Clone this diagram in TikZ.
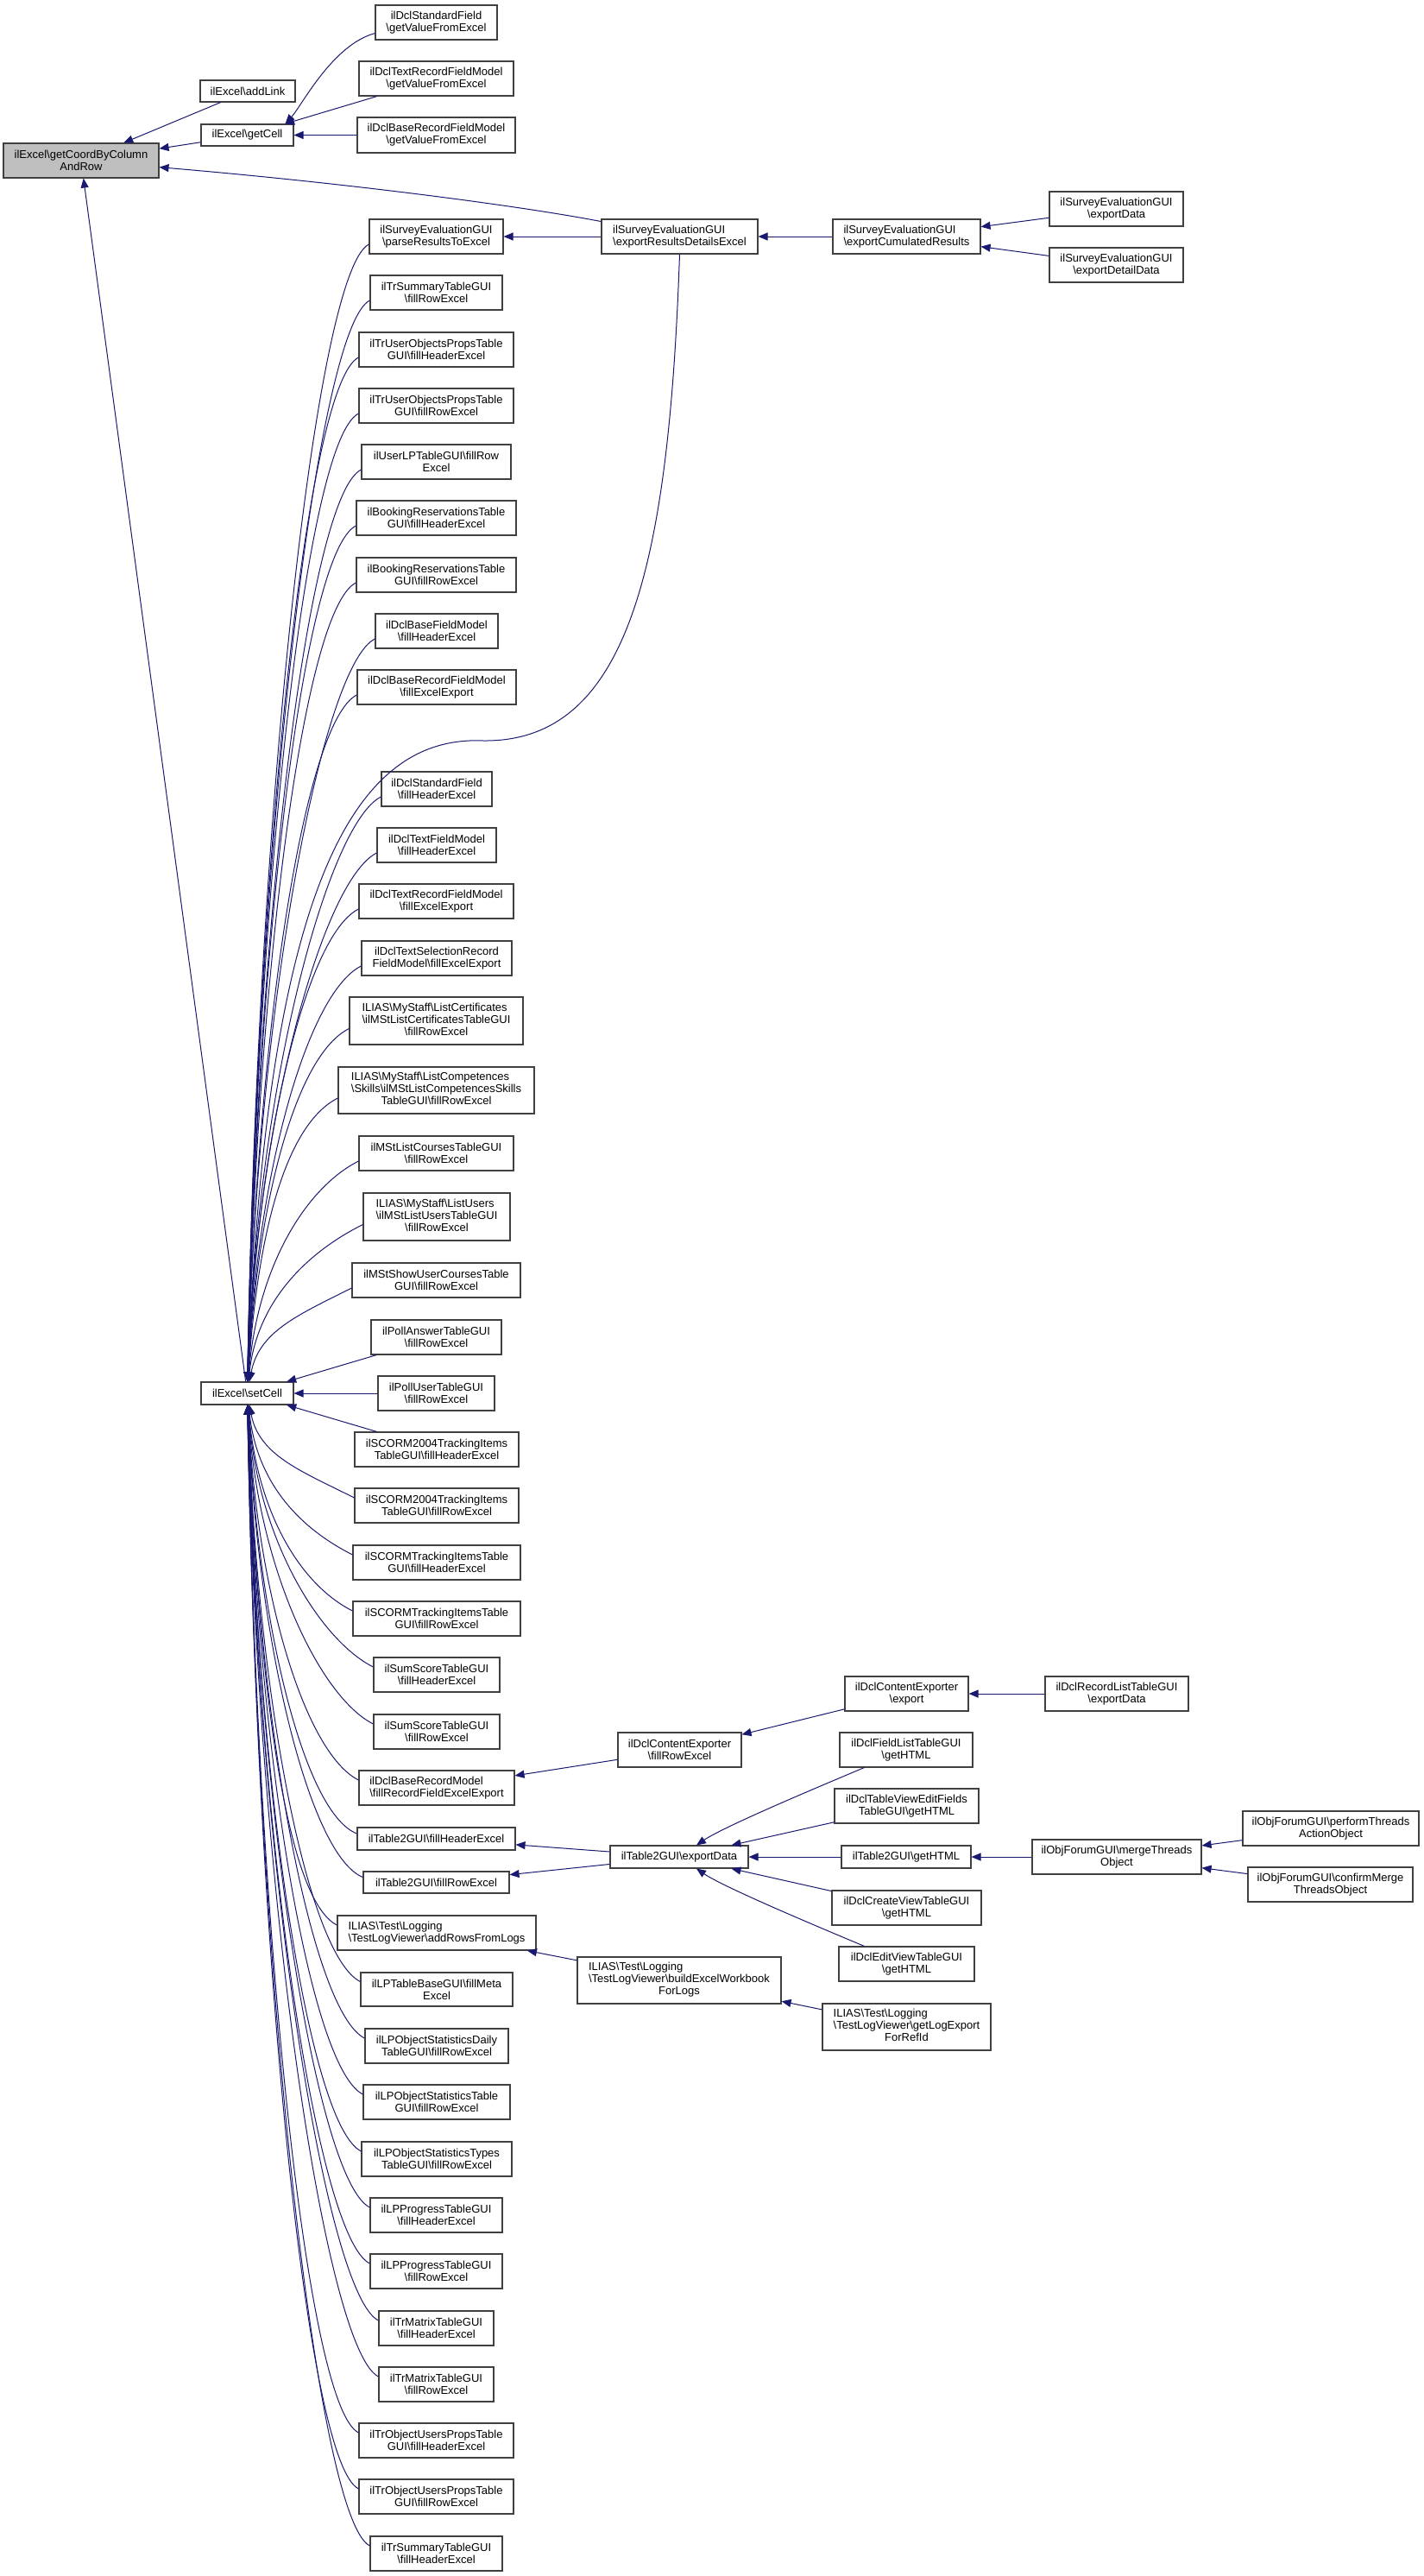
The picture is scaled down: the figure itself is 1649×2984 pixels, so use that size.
\documentclass[tikz,border=0pt]{standalone}
\usepackage{fontspec}
\setmainfont{Liberation Sans}
\usetikzlibrary{arrows.meta,calc}
\definecolor{edgec}{HTML}{191970}
\definecolor{boxc}{HTML}{404040}
\definecolor{gcfill}{HTML}{BFBFBF}
\newcommand\bsl{\textbackslash}
\newcommand\bx[6][]{\node[box,minimum width={(#5-#3)*1pt},minimum height={(#6-#4)*1pt},#1] (#2) at ({(#3+#5)/2},{(#4+#6)/2})}
\newcommand\upc[5]{\draw[call] ([yshift=-9pt]#1.west) .. controls (#2,#3) and (#4,#5) .. (setCell);}
\newcommand\loc[5]{\draw[call] ([yshift=9pt]#1.west) .. controls (#2,#3) and (#4,#5) .. (setCell);}
\newcommand\llc[3]{\begin{tabular}{@{}l@{}}#1\\#2\\\multicolumn{1}{@{}c@{}}{#3}\end{tabular}}
\tikzset{
  box/.style={draw=boxc, line width=1.1pt, fill=white, inner sep=0pt, align=center, font=\fontsize{13}{14}\selectfont},
  call/.style={draw=edgec, line width=1pt, -{Triangle[length=11pt,width=9pt]}},
}
\begin{document}
\begin{tikzpicture}[x=1pt,y=-1pt]
\useasboundingbox (0,0) rectangle (1649,2984);
% top part
\bx[fill=gcfill]{gc}{4}{166}{184}{206}{ilExcel\bsl getCoordByColumn\\AndRow};
\bx{addLink}{232}{93}{342}{118}{ilExcel\bsl addLink};
\bx{getCell}{233}{144}{340}{169}{ilExcel\bsl getCell};
\bx{sfGet}{435}{6}{576}{46}{ilDclStandardField\\\bsl getValueFromExcel};
\bx{trfGet}{416}{71}{595}{111}{ilDclTextRecordFieldModel\\\bsl getValueFromExcel};
\bx{brfGet}{414}{136}{597}{177}{ilDclBaseRecordFieldModel\\\bsl getValueFromExcel};
\bx[align=left]{erde}{697}{254}{878}{294}{ilSurveyEvaluationGUI\\\bsl exportResultsDetailsExcel};
\bx[align=left]{ecr}{965}{254}{1136}{294}{ilSurveyEvaluationGUI\\\bsl exportCumulatedResults};
\bx{sexd}{1216}{222}{1371}{262}{ilSurveyEvaluationGUI\\\bsl exportData};
\bx{sexdd}{1216}{287}{1371}{327}{ilSurveyEvaluationGUI\\\bsl exportDetailData};
\bx{setCell}{233}{1601}{340}{1627}{ilExcel\bsl setCell};
% left column
\bx{parse}{428}{254}{583}{294}{ilSurveyEvaluationGUI\\\bsl parseResultsToExcel};
\bx{trsumR}{429}{319}{582}{359}{ilTrSummaryTableGUI\\\bsl fillRowExcel};
\bx{truopH}{416}{385}{595}{425}{ilTrUserObjectsPropsTable\\GUI\bsl fillHeaderExcel};
\bx{truopR}{416}{450}{595}{490}{ilTrUserObjectsPropsTable\\GUI\bsl fillRowExcel};
\bx{ulp}{419}{515}{592}{555}{ilUserLPTableGUI\bsl fillRow\\Excel};
\bx{brH}{413}{580}{598}{620}{ilBookingReservationsTable\\GUI\bsl fillHeaderExcel};
\bx{brR}{413}{646}{598}{686}{ilBookingReservationsTable\\GUI\bsl fillRowExcel};
\bx{bfmH}{435}{711}{577}{751}{ilDclBaseFieldModel\\\bsl fillHeaderExcel};
\bx{brfmE}{414}{776}{598}{816}{ilDclBaseRecordFieldModel\\\bsl fillExcelExport};
\bx{sfH}{442}{894}{570}{934}{ilDclStandardField\\\bsl fillHeaderExcel};
\bx{tfmH}{437}{959}{575}{999}{ilDclTextFieldModel\\\bsl fillHeaderExcel};
\bx{trfmE}{416}{1024}{595}{1064}{ilDclTextRecordFieldModel\\\bsl fillExcelExport};
\bx{tsrfm}{419}{1090}{593}{1130}{ilDclTextSelectionRecord\\FieldModel\bsl fillExcelExport};
\bx{cert}{405}{1155}{606}{1210}{\llc{ILIAS\bsl MyStaff\bsl ListCertificates}{\bsl ilMStListCertificatesTableGUI}{\bsl fillRowExcel}};
\bx{comp}{392}{1236}{619}{1290}{\llc{ILIAS\bsl MyStaff\bsl ListCompetences}{\bsl Skills\bsl ilMStListCompetencesSkills}{TableGUI\bsl fillRowExcel}};
\bx{courses}{416}{1316}{595}{1356}{ilMStListCoursesTableGUI\\\bsl fillRowExcel};
\bx{users}{421}{1382}{591}{1437}{\llc{ILIAS\bsl MyStaff\bsl ListUsers}{\bsl ilMStListUsersTableGUI}{\bsl fillRowExcel}};
\bx{showuc}{408}{1463}{603}{1503}{ilMStShowUserCoursesTable\\GUI\bsl fillRowExcel};
\bx{pollA}{430}{1529}{581}{1569}{ilPollAnswerTableGUI\\\bsl fillRowExcel};
\bx{pollU}{438}{1594}{573}{1634}{ilPollUserTableGUI\\\bsl fillRowExcel};
\bx{s04H}{411}{1659}{601}{1699}{ilSCORM2004TrackingItems\\TableGUI\bsl fillHeaderExcel};
\bx{s04R}{411}{1724}{601}{1764}{ilSCORM2004TrackingItems\\TableGUI\bsl fillRowExcel};
\bx{stiH}{409}{1790}{603}{1830}{ilSCORMTrackingItemsTable\\GUI\bsl fillHeaderExcel};
\bx{stiR}{409}{1855}{603}{1895}{ilSCORMTrackingItemsTable\\GUI\bsl fillRowExcel};
\bx{ssH}{433}{1920}{579}{1960}{ilSumScoreTableGUI\\\bsl fillHeaderExcel};
\bx{ssR}{433}{1986}{579}{2026}{ilSumScoreTableGUI\\\bsl fillRowExcel};
\bx[align=left]{brmE}{416}{2051}{596}{2091}{ilDclBaseRecordModel\\\bsl fillRecordFieldExcelExport};
\bx{t2H}{414}{2117}{597}{2143}{ilTable2GUI\bsl fillHeaderExcel};
\bx{t2R}{421}{2168}{590}{2193}{ilTable2GUI\bsl fillRowExcel};
\bx[align=left]{addRows}{391}{2219}{621}{2259}{ILIAS\bsl Test\bsl Logging\\\bsl TestLogViewer\bsl addRowsFromLogs};
\bx{lptb}{418}{2285}{594}{2324}{ilLPTableBaseGUI\bsl fillMeta\\Excel};
\bx{lposD}{423}{2350}{589}{2390}{ilLPObjectStatisticsDaily\\TableGUI\bsl fillRowExcel};
\bx{lposT}{421}{2415}{591}{2455}{ilLPObjectStatisticsTable\\GUI\bsl fillRowExcel};
\bx{lposTy}{419}{2481}{593}{2521}{ilLPObjectStatisticsTypes\\TableGUI\bsl fillRowExcel};
\bx{lppH}{429}{2546}{582}{2586}{ilLPProgressTableGUI\\\bsl fillHeaderExcel};
\bx{lppR}{429}{2611}{582}{2651}{ilLPProgressTableGUI\\\bsl fillRowExcel};
\bx{trmH}{439}{2677}{572}{2717}{ilTrMatrixTableGUI\\\bsl fillHeaderExcel};
\bx{trmR}{439}{2742}{572}{2782}{ilTrMatrixTableGUI\\\bsl fillRowExcel};
\bx{troupH}{416}{2807}{595}{2847}{ilTrObjectUsersPropsTable\\GUI\bsl fillHeaderExcel};
\bx{troupR}{416}{2872}{595}{2912}{ilTrObjectUsersPropsTable\\GUI\bsl fillRowExcel};
\bx{trsumH}{429}{2938}{582}{2978}{ilTrSummaryTableGUI\\\bsl fillHeaderExcel};
% right part
\bx{dceFill}{716}{2007}{859}{2047}{ilDclContentExporter\\\bsl fillRowExcel};
\bx{dceExport}{979}{1942}{1122}{1982}{ilDclContentExporter\\\bsl export};
\bx{dclRL}{1211}{1942}{1377}{1982}{ilDclRecordListTableGUI\\\bsl exportData};
\bx{t2exp}{707}{2138}{867}{2164}{ilTable2GUI\bsl exportData};
\bx{fieldList}{973}{2007}{1127}{2047}{ilDclFieldListTableGUI\\\bsl getHTML};
\bx{tvef}{967}{2072}{1134}{2112}{ilDclTableViewEditFields\\TableGUI\bsl getHTML};
\bx{t2html}{975}{2138}{1125}{2164}{ilTable2GUI\bsl getHTML};
\bx{createView}{964}{2190}{1137}{2230}{ilDclCreateViewTableGUI\\\bsl getHTML};
\bx{editView}{972}{2255}{1129}{2295}{ilDclEditViewTableGUI\\\bsl getHTML};
\bx{merge}{1196}{2131}{1392}{2171}{ilObjForumGUI\bsl mergeThreads\\Object};
\bx{perform}{1440}{2098}{1644}{2138}{ilObjForumGUI\bsl performThreads\\ActionObject};
\bx{confirm}{1446}{2163}{1637}{2203}{ilObjForumGUI\bsl confirmMerge\\ThreadsObject};
\bx{build}{669}{2267}{905}{2321}{\llc{ILIAS\bsl Test\bsl Logging}{\bsl TestLogViewer\bsl buildExcelWorkbook}{ForLogs}};
\bx{getLog}{953}{2321}{1148}{2375}{\llc{ILIAS\bsl Test\bsl Logging}{\bsl TestLogViewer\bsl getLogExport}{ForRefId}};
% edges, top
\draw[call] (addLink) -- (gc);
\draw[call] (getCell) -- (gc);
\draw[call] (erde) .. controls (600,238) and (400,212) .. (gc);
\draw[call] (setCell) -- (gc);
\draw[call] (sfGet.190) .. controls (385,52) and (350,122) .. ([xshift=-10pt]getCell.north east);
\draw[call] (trfGet) -- (getCell);
\draw[call] (brfGet) -- (getCell);
\draw[call] (erde) -- (parse);
\draw[call] (ecr) -- (erde);
\draw[call] (sexd) -- (ecr);
\draw[call] (sexdd) -- (ecr);
\draw[call] (erde.south) .. controls (775,650) and (730,860) .. (560,858) .. controls (420,852) and (310,1000) .. (setCell);
% edges, left column to setCell
\upc{parse}{366}{314}{298}{937}
\upc{trsumR}{367}{379}{298}{970}
\upc{truopH}{354}{445}{298}{1003}
\upc{truopR}{354}{510}{298}{1035}
\upc{ulp}{357}{575}{298}{1068}
\upc{brH}{351}{640}{298}{1100}
\upc{brR}{351}{706}{298}{1133}
\upc{bfmH}{373}{771}{298}{1166}
\upc{brfmE}{352}{836}{298}{1198}
\upc{sfH}{380}{954}{298}{1257}
\upc{tfmH}{375}{1019}{298}{1290}
\upc{trfmE}{354}{1084}{298}{1322}
\upc{tsrfm}{357}{1150}{298}{1355}
\upc{cert}{343}{1222}{298}{1392}
\upc{comp}{330}{1303}{298}{1432}
\upc{courses}{354}{1376}{298}{1468}
\upc{users}{359}{1449}{298}{1505}
\upc{showuc}{346}{1523}{300}{1542}
\draw[call] (pollA) -- (setCell);
\draw[call] (pollU) -- (setCell);
\draw[call] (s04H) -- (setCell);
\loc{s04R}{349}{1704}{300}{1686}
\loc{stiH}{347}{1770}{298}{1718}
\loc{stiR}{347}{1835}{298}{1751}
\loc{ssH}{371}{1900}{298}{1783}
\loc{ssR}{371}{1966}{298}{1816}
\loc{brmE}{354}{2031}{298}{1849}
\draw[call] ([yshift=6pt]t2H.west) .. controls (352,2100) and (298,1878) .. (setCell);
\draw[call] ([yshift=6pt]t2R.west) .. controls (359,2150) and (298,1904) .. (setCell);
\loc{addRows}{329}{2199}{298}{1933}
\loc{lptb}{356}{2264}{298}{1966}
\loc{lposD}{361}{2330}{298}{1998}
\loc{lposT}{359}{2395}{298}{2031}
\loc{lposTy}{357}{2461}{298}{2064}
\loc{lppH}{367}{2526}{298}{2096}
\loc{lppR}{367}{2591}{298}{2129}
\loc{trmH}{377}{2657}{298}{2162}
\loc{trmR}{377}{2722}{298}{2194}
\loc{troupH}{354}{2787}{298}{2227}
\loc{troupR}{354}{2852}{298}{2260}
\loc{trsumH}{367}{2918}{298}{2292}
% edges, right part
\draw[call] (dceFill) -- (brmE);
\draw[call] (dceExport) -- (dceFill);
\draw[call] (dclRL) -- (dceExport);
\draw[call] (t2exp) -- (t2H);
\draw[call] (t2exp) -- (t2R);
\draw[call] (fieldList) .. controls (960,2065) and (840,2115) .. (t2exp);
\draw[call] (tvef) -- (t2exp);
\draw[call] (t2html) -- (t2exp);
\draw[call] (createView) -- (t2exp);
\draw[call] (editView) .. controls (960,2237) and (840,2187) .. (t2exp);
\draw[call] (merge) -- (t2html);
\draw[call] (perform) -- (merge);
\draw[call] (confirm) -- (merge);
\draw[call] (build) -- (addRows);
\draw[call] (getLog) -- (build);
\end{tikzpicture}
\end{document}
